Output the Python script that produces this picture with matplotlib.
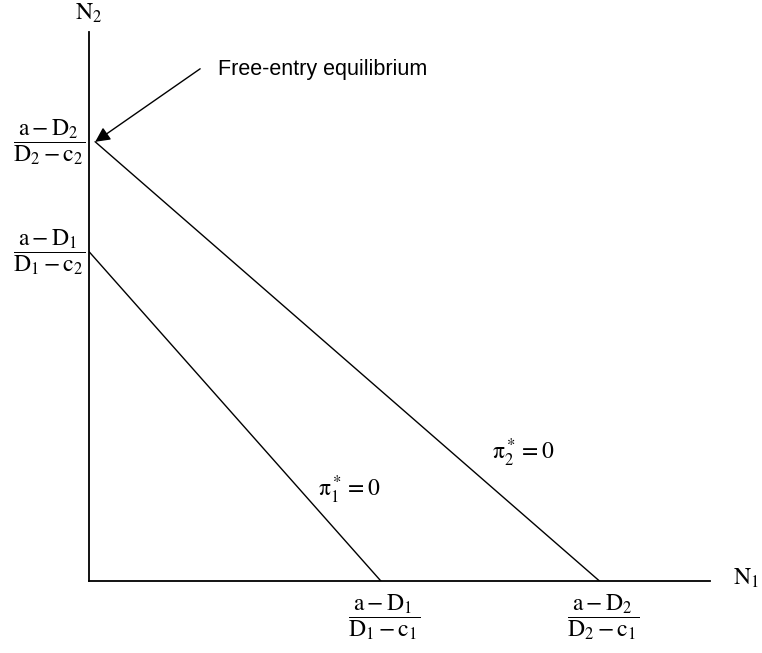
import matplotlib.pyplot as plt

plt.rcParams['mathtext.fontset'] = 'stix'
plt.rcParams['font.family'] = 'Liberation Serif'

# intercepts of the zero-profit lines (abstract units)
line1_x = [0.0, 4.70]
line1_y = [6.0, 0.0]
line2_x = [0.1, 8.22]
line2_y = [8.0, 0.0]

y_labels = [r'$\dfrac{\mathrm{a}-\mathrm{D}_2}{\mathrm{D}_2-\mathrm{c}_2}$',
            r'$\dfrac{\mathrm{a}-\mathrm{D}_1}{\mathrm{D}_1-\mathrm{c}_2}$']
y_label_pos = [8.0, 6.0]
x_labels = [r'$\dfrac{\mathrm{a}-\mathrm{D}_1}{\mathrm{D}_1-\mathrm{c}_1}$',
            r'$\dfrac{\mathrm{a}-\mathrm{D}_2}{\mathrm{D}_2-\mathrm{c}_1}$']
x_label_pos = [4.70, 8.22]

fig = plt.figure(figsize=(7.62, 6.53), dpi=100)
ax = fig.add_axes([89 / 762, 72 / 653, 621 / 762, 549 / 653])
ax.set_xlim(0, 10)
ax.set_ylim(0, 10)
for s in ['top', 'right']:
    ax.spines[s].set_visible(False)
for s in ['left', 'bottom']:
    ax.spines[s].set_linewidth(1.3)
ax.set_xticks([])
ax.set_yticks([])

ax.plot(line1_x, line1_y, color='black', lw=1.0)
ax.plot(line2_x, line2_y, color='black', lw=1.0)

# axis names
ax.text(0.0, 10.12, r'$\mathrm{N}_2$', fontsize=17, ha='center', va='bottom')
ax.text(10.37, 0.05, r'$\mathrm{N}_1$', fontsize=17, ha='left', va='center')

for lab, yv in zip(y_labels, y_label_pos):
    ax.text(-0.07, yv, lab, fontsize=17, ha='right', va='center')
for lab, xv in zip(x_labels, x_label_pos):
    ax.text(xv + 0.05, -0.2, lab, fontsize=17, ha='center', va='top')

ax.text(4.19, 1.66, r'$\mathrm{\pi}_1^* = 0$', fontsize=17, ha='center', va='center')
ax.text(6.99, 2.33, r'$\mathrm{\pi}_2^* = 0$', fontsize=17, ha='center', va='center')

ax.annotate('', xy=(0.1, 8.0), xytext=(1.79, 9.33),
            arrowprops=dict(arrowstyle='-|>', mutation_scale=22, lw=1.0,
                            color='black', shrinkA=0, shrinkB=0))
ax.text(2.08, 9.31, 'Free-entry equilibrium', fontsize=15.5,
        family='Liberation Sans', ha='left', va='center')

fig.savefig('out.png', dpi=100)
